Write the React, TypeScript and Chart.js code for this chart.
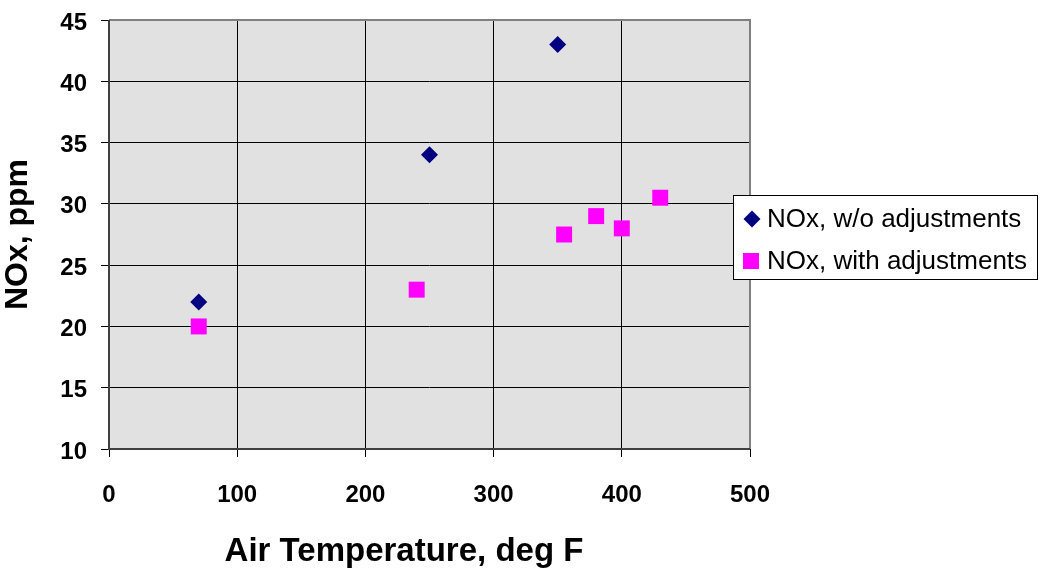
import React, { useEffect, useRef } from "react";
import { Chart, registerables } from "chart.js";

Chart.register(...registerables);

const xTicks = [0, 100, 200, 300, 400, 500];
const yTicks = [10, 15, 20, 25, 30, 35, 40, 45];

const woTemps = [70, 250, 350];
const woNOx = [22, 34, 43];

const withTemps = [70, 240, 355, 380, 400, 430];
const withNOx = [20, 23, 27.5, 29, 28, 30.5];

const seriesLabels = ["NOx, w/o adjustments", "NOx, with adjustments"];
const xTitle = "Air Temperature, deg F";
const yTitle = "NOx, ppm";

const FONT = "Arial, 'Liberation Sans', sans-serif";

const decorPlugin = {
  id: "decor",
  beforeDraw(chart: any) {
    const { ctx, chartArea: a } = chart;
    ctx.save();
    ctx.fillStyle = "#e1e1e1";
    ctx.fillRect(a.left, a.top, a.right - a.left, a.bottom - a.top);
    ctx.restore();
  },
  afterDatasetsDraw(chart: any) {
    const { ctx, chartArea: a } = chart;
    ctx.save();
    ctx.strokeStyle = "#808080";
    ctx.lineWidth = 2;
    ctx.beginPath();
    ctx.moveTo(a.left, a.top);
    ctx.lineTo(a.right, a.top);
    ctx.lineTo(a.right, a.bottom);
    ctx.stroke();
    ctx.strokeStyle = "#404040";
    ctx.beginPath();
    ctx.moveTo(a.left, a.top);
    ctx.lineTo(a.left, a.bottom);
    ctx.lineTo(a.right, a.bottom);
    ctx.stroke();

    ctx.fillStyle = "#000";
    ctx.font = `bold 33px ${FONT}`;
    ctx.textAlign = "center";
    ctx.textBaseline = "alphabetic";
    ctx.fillText(xTitle, 404, 561);
    ctx.save();
    ctx.font = `bold 32px ${FONT}`;
    ctx.translate(27, (a.top + a.bottom) / 2);
    ctx.rotate(-Math.PI / 2);
    ctx.fillText(yTitle, 0, 0);
    ctx.restore();

    const lx = 733, ly = 195, lw = 304, lh = 84;
    ctx.fillStyle = "#fff";
    ctx.fillRect(lx, ly, lw, lh);
    ctx.strokeStyle = "#000";
    ctx.lineWidth = 1;
    ctx.strokeRect(lx + 0.5, ly + 0.5, lw, lh);
    ctx.fillStyle = "#000080";
    ctx.beginPath();
    const dx = 752, dy = 219, dr = 8.5;
    ctx.moveTo(dx, dy - dr);
    ctx.lineTo(dx + dr, dy);
    ctx.lineTo(dx, dy + dr);
    ctx.lineTo(dx - dr, dy);
    ctx.closePath();
    ctx.fill();
    ctx.fillStyle = "#ff00ff";
    ctx.fillRect(743, 253, 16, 16);
    ctx.fillStyle = "#000";
    ctx.font = `26px ${FONT}`;
    ctx.textAlign = "left";
    ctx.textBaseline = "middle";
    ctx.fillText(seriesLabels[0], 767, 220);
    ctx.fillText(seriesLabels[1], 767, 262);
    ctx.restore();
  },
};

export default function App() {
  const ref = useRef<HTMLCanvasElement>(null);
  useEffect(() => {
    const chart = new Chart(ref.current!, {
      type: "scatter",
      data: {
        datasets: [
          {
            label: seriesLabels[0],
            data: woTemps.map((x, i) => ({ x, y: woNOx[i] })),
            pointStyle: "rectRot",
            pointRadius: 8.5,
            backgroundColor: "#000080",
            borderColor: "#000080",
            borderWidth: 0,
          },
          {
            label: seriesLabels[1],
            data: withTemps.map((x, i) => ({ x, y: withNOx[i] })),
            pointStyle: "rect",
            pointRadius: 11.3,
            backgroundColor: "#ff00ff",
            borderColor: "#ff00ff",
            borderWidth: 0,
          },
        ],
      },
      options: {
        animation: false,
        responsive: false,
        maintainAspectRatio: false,
        layout: { padding: { top: 20, right: 290, left: 0, bottom: 0 } },
        plugins: { legend: { display: false }, tooltip: { enabled: false } },
        scales: {
          x: {
            type: "linear",
            min: xTicks[0],
            max: xTicks[xTicks.length - 1],
            afterBuildTicks: (s: any) => {
              s.ticks = xTicks.map((v) => ({ value: v }));
            },
            afterFit: (s: any) => {
              s.height = 120;
              s.paddingLeft = 0;
              s.paddingRight = 0;
            },
            grid: { color: "#000", lineWidth: 1, tickLength: 8, drawOnChartArea: true },
            border: { display: false },
            ticks: {
              color: "#000",
              padding: 24,
              maxRotation: 0,
              font: { family: FONT, size: 24, weight: "bold" },
            },
          },
          y: {
            type: "linear",
            min: yTicks[0],
            max: yTicks[yTicks.length - 1],
            afterBuildTicks: (s: any) => {
              s.ticks = yTicks.map((v) => ({ value: v }));
            },
            afterFit: (s: any) => {
              s.width = 109;
              s.paddingTop = 0;
              s.paddingBottom = 0;
            },
            grid: { color: "#000", lineWidth: 1, tickLength: 8, drawOnChartArea: true },
            border: { display: false },
            ticks: {
              color: "#000",
              padding: 14,
              labelOffset: 3,
              font: { family: FONT, size: 24, weight: "bold" },
            },
          },
        },
      },
      plugins: [decorPlugin],
    });
    return () => chart.destroy();
  }, []);
  return (
    <div style={{ position: "fixed", left: 0, top: 0, width: 1040, height: 569, background: "#fff" }}>
      <canvas ref={ref} width={1040} height={569} style={{ width: 1040, height: 569 }} />
    </div>
  );
}
